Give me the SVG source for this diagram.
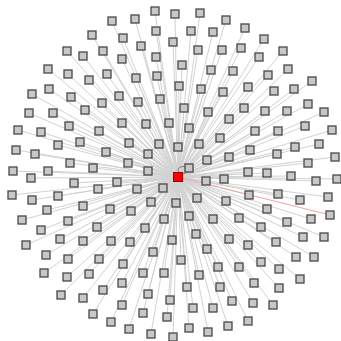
<svg xmlns="http://www.w3.org/2000/svg" width="341" height="341" viewBox="0 0 341 341">
<style>
.e{stroke:#d2d2d2;stroke-width:1;fill:none}
.er{stroke:#f4a3a3;stroke-width:1;fill:none}
.n rect{fill:#c8c8c8;stroke:#484848;stroke-width:1.3}
.c rect{fill:#ff0000;stroke:#a00000;stroke-width:1}
</style>
<rect width="341" height="341" fill="#ffffff"/>
<g id="edges">
<path class="e" d="M178 177L155 11M178 177L135 19M178 177L112 21M178 177L156 31M178 177L92 35M178 177L123 38M178 177L141 46M178 177L67 51M178 177L83 56M178 177L103 51M178 177L122 59M178 177L156 57M178 177L48 69M178 177L68 74M178 177L89 80M178 177L107 74M178 177L136 78M178 177L157 76M178 177L32 94M178 177L49 89M178 177L71 97M178 177L85 110M178 177L102 103M178 177L119 96M178 177L138 102M178 177L160 99M178 177L29 113M178 177L53 113M178 177L69 126M178 177L99 131M178 177L122 123M178 177L146 124M178 177L169 123M178 177L18 130M178 177L41 132M178 177L58 145M178 177L80 142M178 177L106 152M178 177L129 143M178 177L159 144M178 177L16 150M178 177L35 154M178 177L70 163M178 177L93 168M178 177L128 163M178 177L148 154M178 177L13 171M178 177L48 171M178 177L148 171"/>
<path class="e" d="M178 177L175 14M178 177L200 13M178 177L226 20M178 177L191 31M178 177L213 32M178 177L245 28M178 177L173 42M178 177L264 39M178 177L198 50M178 177L222 50M178 177L241 48M178 177L283 51M178 177L182 65M178 177L259 57M178 177L211 70M178 177L233 71M178 177L288 69M178 177L179 86M178 177L268 75M178 177L201 89M178 177L223 92M178 177L248 87M178 177L312 81M178 177L274 91M178 177L294 89M178 177L184 108M178 177L208 112M178 177L244 108M178 177L265 111M178 177L287 111M178 177L308 104M178 177L324 112M178 177L189 128M178 177L229 119M178 177L255 131M178 177L278 131M178 177L305 126M178 177L332 130M178 177L178 147M178 177L199 144M178 177L220 138M178 177L250 150M178 177L295 147M178 177L319 144M178 177L207 160M178 177L229 157M178 177L277 154M178 177L308 163M178 177L335 157M178 177L189 168M178 177L248 172M178 177L267 173"/>
<path class="e" d="M178 177L31 178M178 177L74 183M178 177L117 182M178 177L163 188M178 177L12 195M178 177L32 200M178 177L58 196M178 177L98 189M178 177L137 189M178 177L151 202M178 177L83 206M178 177L47 210M178 177L110 209M178 177L131 211M178 177L164 219M178 177L22 220M178 177L68 221M178 177L97 227M178 177L145 228M178 177L41 230M178 177L60 239M178 177L83 241M178 177L111 241M178 177L130 242M178 177L26 245M178 177L172 240M178 177L153 252M178 177L46 255M178 177L68 259M178 177L99 259M178 177L123 264M178 177L44 273M178 177L67 277M178 177L89 274M178 177L122 283M178 177L143 273M178 177L164 273M178 177L61 295M178 177L83 298M178 177L103 290M178 177L148 294M178 177L170 300M178 177L122 305M178 177L93 314M178 177L143 313M178 177L167 317M178 177L111 322M178 177L129 329M178 177L151 334M178 177L173 337"/>
<path class="e" d="M178 177L206 181M178 177L224 179M178 177L291 176M178 177L316 181M178 177L337 179M178 177L176 203M178 177L197 198M178 177L226 201M178 177L249 195M178 177L278 194M178 177L300 200M178 177L328 197M178 177L267 209M178 177L189 216M178 177L213 219M178 177L239 218M178 177L287 222M178 177L311 219M178 177L196 234M178 177L229 239M178 177L261 227M178 177L276 242M178 177L303 237M178 177L324 237M178 177L248 245M178 177L207 249M178 177L181 260M178 177L218 267M178 177L239 267M178 177L261 262M178 177L279 269M178 177L296 257M178 177L314 257M178 177L300 279M178 177L199 275M178 177L254 283M178 177L187 287M178 177L220 287M178 177L279 288M178 177L232 301M178 177L253 303M178 177L273 305M178 177L193 308M178 177L213 308M178 177L248 321M178 177L228 326M178 177L189 328M178 177L208 332"/>
<path class="er" d="M178 177L330 215"/>
<ellipse cx="183" cy="170" rx="5" ry="3.5" fill="none" stroke="#7a7a7a" stroke-width="1"/>
</g>
<g id="n1" class="n"><rect x="151" y="7" width="8" height="8"/></g>
<g id="n2" class="n"><rect x="131" y="15" width="8" height="8"/></g>
<g id="n3" class="n"><rect x="108" y="17" width="8" height="8"/></g>
<g id="n4" class="n"><rect x="152" y="27" width="8" height="8"/></g>
<g id="n5" class="n"><rect x="88" y="31" width="8" height="8"/></g>
<g id="n6" class="n"><rect x="119" y="34" width="8" height="8"/></g>
<g id="n7" class="n"><rect x="137" y="42" width="8" height="8"/></g>
<g id="n8" class="n"><rect x="63" y="47" width="8" height="8"/></g>
<g id="n9" class="n"><rect x="79" y="52" width="8" height="8"/></g>
<g id="n10" class="n"><rect x="99" y="47" width="8" height="8"/></g>
<g id="n11" class="n"><rect x="118" y="55" width="8" height="8"/></g>
<g id="n12" class="n"><rect x="152" y="53" width="8" height="8"/></g>
<g id="n13" class="n"><rect x="44" y="65" width="8" height="8"/></g>
<g id="n14" class="n"><rect x="64" y="70" width="8" height="8"/></g>
<g id="n15" class="n"><rect x="85" y="76" width="8" height="8"/></g>
<g id="n16" class="n"><rect x="103" y="70" width="8" height="8"/></g>
<g id="n17" class="n"><rect x="132" y="74" width="8" height="8"/></g>
<g id="n18" class="n"><rect x="153" y="72" width="8" height="8"/></g>
<g id="n19" class="n"><rect x="28" y="90" width="8" height="8"/></g>
<g id="n20" class="n"><rect x="45" y="85" width="8" height="8"/></g>
<g id="n21" class="n"><rect x="67" y="93" width="8" height="8"/></g>
<g id="n22" class="n"><rect x="81" y="106" width="8" height="8"/></g>
<g id="n23" class="n"><rect x="98" y="99" width="8" height="8"/></g>
<g id="n24" class="n"><rect x="115" y="92" width="8" height="8"/></g>
<g id="n25" class="n"><rect x="134" y="98" width="8" height="8"/></g>
<g id="n26" class="n"><rect x="156" y="95" width="8" height="8"/></g>
<g id="n27" class="n"><rect x="25" y="109" width="8" height="8"/></g>
<g id="n28" class="n"><rect x="49" y="109" width="8" height="8"/></g>
<g id="n29" class="n"><rect x="65" y="122" width="8" height="8"/></g>
<g id="n30" class="n"><rect x="95" y="127" width="8" height="8"/></g>
<g id="n31" class="n"><rect x="118" y="119" width="8" height="8"/></g>
<g id="n32" class="n"><rect x="142" y="120" width="8" height="8"/></g>
<g id="n33" class="n"><rect x="165" y="119" width="8" height="8"/></g>
<g id="n34" class="n"><rect x="14" y="126" width="8" height="8"/></g>
<g id="n35" class="n"><rect x="37" y="128" width="8" height="8"/></g>
<g id="n36" class="n"><rect x="54" y="141" width="8" height="8"/></g>
<g id="n37" class="n"><rect x="76" y="138" width="8" height="8"/></g>
<g id="n38" class="n"><rect x="102" y="148" width="8" height="8"/></g>
<g id="n39" class="n"><rect x="125" y="139" width="8" height="8"/></g>
<g id="n40" class="n"><rect x="155" y="140" width="8" height="8"/></g>
<g id="n41" class="n"><rect x="12" y="146" width="8" height="8"/></g>
<g id="n42" class="n"><rect x="31" y="150" width="8" height="8"/></g>
<g id="n43" class="n"><rect x="66" y="159" width="8" height="8"/></g>
<g id="n44" class="n"><rect x="89" y="164" width="8" height="8"/></g>
<g id="n45" class="n"><rect x="124" y="159" width="8" height="8"/></g>
<g id="n46" class="n"><rect x="144" y="150" width="8" height="8"/></g>
<g id="n47" class="n"><rect x="9" y="167" width="8" height="8"/></g>
<g id="n48" class="n"><rect x="44" y="167" width="8" height="8"/></g>
<g id="n49" class="n"><rect x="144" y="167" width="8" height="8"/></g>
<g id="n50" class="n"><rect x="171" y="10" width="8" height="8"/></g>
<g id="n51" class="n"><rect x="196" y="9" width="8" height="8"/></g>
<g id="n52" class="n"><rect x="222" y="16" width="8" height="8"/></g>
<g id="n53" class="n"><rect x="187" y="27" width="8" height="8"/></g>
<g id="n54" class="n"><rect x="209" y="28" width="8" height="8"/></g>
<g id="n55" class="n"><rect x="241" y="24" width="8" height="8"/></g>
<g id="n56" class="n"><rect x="169" y="38" width="8" height="8"/></g>
<g id="n57" class="n"><rect x="260" y="35" width="8" height="8"/></g>
<g id="n58" class="n"><rect x="194" y="46" width="8" height="8"/></g>
<g id="n59" class="n"><rect x="218" y="46" width="8" height="8"/></g>
<g id="n60" class="n"><rect x="237" y="44" width="8" height="8"/></g>
<g id="n61" class="n"><rect x="279" y="47" width="8" height="8"/></g>
<g id="n62" class="n"><rect x="178" y="61" width="8" height="8"/></g>
<g id="n63" class="n"><rect x="255" y="53" width="8" height="8"/></g>
<g id="n64" class="n"><rect x="207" y="66" width="8" height="8"/></g>
<g id="n65" class="n"><rect x="229" y="67" width="8" height="8"/></g>
<g id="n66" class="n"><rect x="284" y="65" width="8" height="8"/></g>
<g id="n67" class="n"><rect x="175" y="82" width="8" height="8"/></g>
<g id="n68" class="n"><rect x="264" y="71" width="8" height="8"/></g>
<g id="n69" class="n"><rect x="197" y="85" width="8" height="8"/></g>
<g id="n70" class="n"><rect x="219" y="88" width="8" height="8"/></g>
<g id="n71" class="n"><rect x="244" y="83" width="8" height="8"/></g>
<g id="n72" class="n"><rect x="308" y="77" width="8" height="8"/></g>
<g id="n73" class="n"><rect x="270" y="87" width="8" height="8"/></g>
<g id="n74" class="n"><rect x="290" y="85" width="8" height="8"/></g>
<g id="n75" class="n"><rect x="180" y="104" width="8" height="8"/></g>
<g id="n76" class="n"><rect x="204" y="108" width="8" height="8"/></g>
<g id="n77" class="n"><rect x="240" y="104" width="8" height="8"/></g>
<g id="n78" class="n"><rect x="261" y="107" width="8" height="8"/></g>
<g id="n79" class="n"><rect x="283" y="107" width="8" height="8"/></g>
<g id="n80" class="n"><rect x="304" y="100" width="8" height="8"/></g>
<g id="n81" class="n"><rect x="320" y="108" width="8" height="8"/></g>
<g id="n82" class="n"><rect x="185" y="124" width="8" height="8"/></g>
<g id="n83" class="n"><rect x="225" y="115" width="8" height="8"/></g>
<g id="n84" class="n"><rect x="251" y="127" width="8" height="8"/></g>
<g id="n85" class="n"><rect x="274" y="127" width="8" height="8"/></g>
<g id="n86" class="n"><rect x="301" y="122" width="8" height="8"/></g>
<g id="n87" class="n"><rect x="328" y="126" width="8" height="8"/></g>
<g id="n88" class="n"><rect x="174" y="143" width="8" height="8"/></g>
<g id="n89" class="n"><rect x="195" y="140" width="8" height="8"/></g>
<g id="n90" class="n"><rect x="216" y="134" width="8" height="8"/></g>
<g id="n91" class="n"><rect x="246" y="146" width="8" height="8"/></g>
<g id="n92" class="n"><rect x="291" y="143" width="8" height="8"/></g>
<g id="n93" class="n"><rect x="315" y="140" width="8" height="8"/></g>
<g id="n94" class="n"><rect x="203" y="156" width="8" height="8"/></g>
<g id="n95" class="n"><rect x="225" y="153" width="8" height="8"/></g>
<g id="n96" class="n"><rect x="273" y="150" width="8" height="8"/></g>
<g id="n97" class="n"><rect x="304" y="159" width="8" height="8"/></g>
<g id="n98" class="n"><rect x="331" y="153" width="8" height="8"/></g>
<g id="n99" class="n"><rect x="185" y="164" width="8" height="8"/></g>
<g id="n100" class="n"><rect x="244" y="168" width="8" height="8"/></g>
<g id="n101" class="n"><rect x="263" y="169" width="8" height="8"/></g>
<g id="n102" class="n"><rect x="27" y="174" width="8" height="8"/></g>
<g id="n103" class="n"><rect x="70" y="179" width="8" height="8"/></g>
<g id="n104" class="n"><rect x="113" y="178" width="8" height="8"/></g>
<g id="n105" class="n"><rect x="159" y="184" width="8" height="8"/></g>
<g id="n106" class="n"><rect x="8" y="191" width="8" height="8"/></g>
<g id="n107" class="n"><rect x="28" y="196" width="8" height="8"/></g>
<g id="n108" class="n"><rect x="54" y="192" width="8" height="8"/></g>
<g id="n109" class="n"><rect x="94" y="185" width="8" height="8"/></g>
<g id="n110" class="n"><rect x="133" y="185" width="8" height="8"/></g>
<g id="n111" class="n"><rect x="147" y="198" width="8" height="8"/></g>
<g id="n112" class="n"><rect x="79" y="202" width="8" height="8"/></g>
<g id="n113" class="n"><rect x="43" y="206" width="8" height="8"/></g>
<g id="n114" class="n"><rect x="106" y="205" width="8" height="8"/></g>
<g id="n115" class="n"><rect x="127" y="207" width="8" height="8"/></g>
<g id="n116" class="n"><rect x="160" y="215" width="8" height="8"/></g>
<g id="n117" class="n"><rect x="18" y="216" width="8" height="8"/></g>
<g id="n118" class="n"><rect x="64" y="217" width="8" height="8"/></g>
<g id="n119" class="n"><rect x="93" y="223" width="8" height="8"/></g>
<g id="n120" class="n"><rect x="141" y="224" width="8" height="8"/></g>
<g id="n121" class="n"><rect x="37" y="226" width="8" height="8"/></g>
<g id="n122" class="n"><rect x="56" y="235" width="8" height="8"/></g>
<g id="n123" class="n"><rect x="79" y="237" width="8" height="8"/></g>
<g id="n124" class="n"><rect x="107" y="237" width="8" height="8"/></g>
<g id="n125" class="n"><rect x="126" y="238" width="8" height="8"/></g>
<g id="n126" class="n"><rect x="22" y="241" width="8" height="8"/></g>
<g id="n127" class="n"><rect x="168" y="236" width="8" height="8"/></g>
<g id="n128" class="n"><rect x="149" y="248" width="8" height="8"/></g>
<g id="n129" class="n"><rect x="42" y="251" width="8" height="8"/></g>
<g id="n130" class="n"><rect x="64" y="255" width="8" height="8"/></g>
<g id="n131" class="n"><rect x="95" y="255" width="8" height="8"/></g>
<g id="n132" class="n"><rect x="119" y="260" width="8" height="8"/></g>
<g id="n133" class="n"><rect x="40" y="269" width="8" height="8"/></g>
<g id="n134" class="n"><rect x="63" y="273" width="8" height="8"/></g>
<g id="n135" class="n"><rect x="85" y="270" width="8" height="8"/></g>
<g id="n136" class="n"><rect x="118" y="279" width="8" height="8"/></g>
<g id="n137" class="n"><rect x="139" y="269" width="8" height="8"/></g>
<g id="n138" class="n"><rect x="160" y="269" width="8" height="8"/></g>
<g id="n139" class="n"><rect x="57" y="291" width="8" height="8"/></g>
<g id="n140" class="n"><rect x="79" y="294" width="8" height="8"/></g>
<g id="n141" class="n"><rect x="99" y="286" width="8" height="8"/></g>
<g id="n142" class="n"><rect x="144" y="290" width="8" height="8"/></g>
<g id="n143" class="n"><rect x="166" y="296" width="8" height="8"/></g>
<g id="n144" class="n"><rect x="118" y="301" width="8" height="8"/></g>
<g id="n145" class="n"><rect x="89" y="310" width="8" height="8"/></g>
<g id="n146" class="n"><rect x="139" y="309" width="8" height="8"/></g>
<g id="n147" class="n"><rect x="163" y="313" width="8" height="8"/></g>
<g id="n148" class="n"><rect x="107" y="318" width="8" height="8"/></g>
<g id="n149" class="n"><rect x="125" y="325" width="8" height="8"/></g>
<g id="n150" class="n"><rect x="147" y="330" width="8" height="8"/></g>
<g id="n151" class="n"><rect x="169" y="333" width="8" height="8"/></g>
<g id="n153" class="n"><rect x="202" y="177" width="8" height="8"/></g>
<g id="n154" class="n"><rect x="220" y="175" width="8" height="8"/></g>
<g id="n155" class="n"><rect x="287" y="172" width="8" height="8"/></g>
<g id="n156" class="n"><rect x="312" y="177" width="8" height="8"/></g>
<g id="n157" class="n"><rect x="333" y="175" width="8" height="8"/></g>
<g id="n158" class="n"><rect x="172" y="199" width="8" height="8"/></g>
<g id="n159" class="n"><rect x="193" y="194" width="8" height="8"/></g>
<g id="n160" class="n"><rect x="222" y="197" width="8" height="8"/></g>
<g id="n161" class="n"><rect x="245" y="191" width="8" height="8"/></g>
<g id="n162" class="n"><rect x="274" y="190" width="8" height="8"/></g>
<g id="n163" class="n"><rect x="296" y="196" width="8" height="8"/></g>
<g id="n164" class="n"><rect x="324" y="193" width="8" height="8"/></g>
<g id="n165" class="n"><rect x="326" y="211" width="8" height="8"/></g>
<g id="n166" class="n"><rect x="263" y="205" width="8" height="8"/></g>
<g id="n167" class="n"><rect x="185" y="212" width="8" height="8"/></g>
<g id="n168" class="n"><rect x="209" y="215" width="8" height="8"/></g>
<g id="n169" class="n"><rect x="235" y="214" width="8" height="8"/></g>
<g id="n170" class="n"><rect x="283" y="218" width="8" height="8"/></g>
<g id="n171" class="n"><rect x="307" y="215" width="8" height="8"/></g>
<g id="n172" class="n"><rect x="192" y="230" width="8" height="8"/></g>
<g id="n173" class="n"><rect x="225" y="235" width="8" height="8"/></g>
<g id="n174" class="n"><rect x="257" y="223" width="8" height="8"/></g>
<g id="n175" class="n"><rect x="272" y="238" width="8" height="8"/></g>
<g id="n176" class="n"><rect x="299" y="233" width="8" height="8"/></g>
<g id="n177" class="n"><rect x="320" y="233" width="8" height="8"/></g>
<g id="n178" class="n"><rect x="244" y="241" width="8" height="8"/></g>
<g id="n179" class="n"><rect x="203" y="245" width="8" height="8"/></g>
<g id="n180" class="n"><rect x="177" y="256" width="8" height="8"/></g>
<g id="n181" class="n"><rect x="214" y="263" width="8" height="8"/></g>
<g id="n182" class="n"><rect x="235" y="263" width="8" height="8"/></g>
<g id="n183" class="n"><rect x="257" y="258" width="8" height="8"/></g>
<g id="n184" class="n"><rect x="275" y="265" width="8" height="8"/></g>
<g id="n185" class="n"><rect x="292" y="253" width="8" height="8"/></g>
<g id="n186" class="n"><rect x="310" y="253" width="8" height="8"/></g>
<g id="n187" class="n"><rect x="296" y="275" width="8" height="8"/></g>
<g id="n188" class="n"><rect x="195" y="271" width="8" height="8"/></g>
<g id="n189" class="n"><rect x="250" y="279" width="8" height="8"/></g>
<g id="n190" class="n"><rect x="183" y="283" width="8" height="8"/></g>
<g id="n191" class="n"><rect x="216" y="283" width="8" height="8"/></g>
<g id="n192" class="n"><rect x="275" y="284" width="8" height="8"/></g>
<g id="n193" class="n"><rect x="228" y="297" width="8" height="8"/></g>
<g id="n194" class="n"><rect x="249" y="299" width="8" height="8"/></g>
<g id="n195" class="n"><rect x="269" y="301" width="8" height="8"/></g>
<g id="n196" class="n"><rect x="189" y="304" width="8" height="8"/></g>
<g id="n197" class="n"><rect x="209" y="304" width="8" height="8"/></g>
<g id="n198" class="n"><rect x="244" y="317" width="8" height="8"/></g>
<g id="n199" class="n"><rect x="224" y="322" width="8" height="8"/></g>
<g id="n200" class="n"><rect x="185" y="324" width="8" height="8"/></g>
<g id="n201" class="n"><rect x="204" y="328" width="8" height="8"/></g>
<g id="center" class="c"><rect x="173.5" y="172.5" width="9" height="9"/></g>
</svg>
